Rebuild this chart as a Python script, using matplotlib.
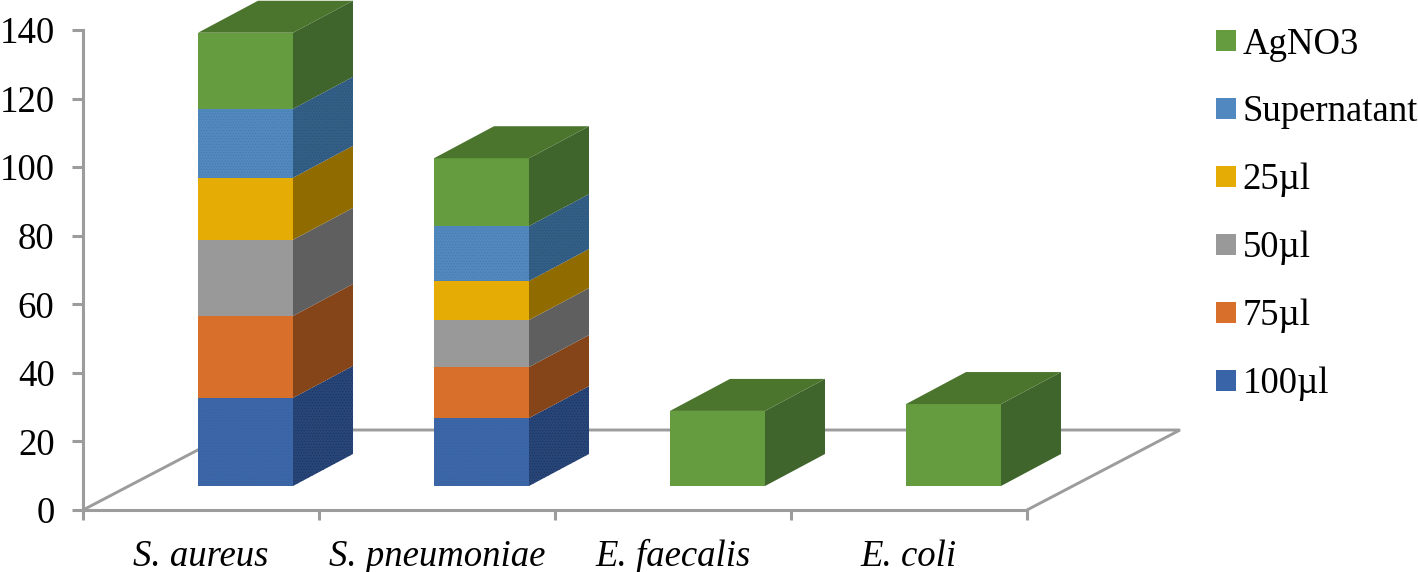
import matplotlib
matplotlib.use("Agg")
import matplotlib.pyplot as plt
from matplotlib.patches import Polygon, Patch

plt.rcParams['font.family'] = ['Liberation Serif', 'DejaVu Serif']
plt.rcParams['hatch.linewidth'] = 0.3

categories = ["S. aureus", "S. pneumoniae", "E. faecalis", "E. coli"]
series_names = ["100µl", "75µl", "50µl", "25µl", "Supernatant", "AgNO3"]
v100 = [25.7, 19.8, 0, 0]
v75 = [23.9, 14.9, 0, 0]
v50 = [22.2, 13.7, 0, 0]
v25 = [18.1, 11.4, 0, 0]
vsup = [20.1, 16.0, 0, 0]
vag = [22.2, 19.8, 21.9, 23.9]
series_values = [v100, v75, v50, v25, vsup, vag]
yticks = [0, 20, 40, 60, 80, 100, 120, 140]

front_colors = ["#3a64a8", "#d8702c", "#999999", "#e5ac05", "#5088bf", "#659c3f"]
side_colors = ["#274579", "#854519", "#5f5f5f", "#8f6b00", "#335f86", "#3f652c"]
front_dots = ["#44709a", None, None, None, "#46789f", None]
side_dots = ["#1c3050", None, None, None, "#2a4e72", None]
top_color = "#4b752d"
axis_color = "#9c9c9c"

fig = plt.figure(figsize=(14.18, 5.72), dpi=100)
W, H = 1418, 572
ax = fig.add_axes([83 / W, 1 - 510 / H, (1027 - 83) / W, (510 - 30) / H])
ax.set_xlim(0, 4)
ax.set_ylim(0, 140)
for s in ("top", "right"):
    ax.spines[s].set_visible(False)
for s in ("left", "bottom"):
    ax.spines[s].set_color(axis_color)
    ax.spines[s].set_linewidth(2.2)

ax.set_yticks(yticks)
ax.tick_params(axis="y", length=8, width=2.2, color=axis_color, labelsize=26.5, pad=12.5)
ax.set_xticks(range(5))
ax.set_xticklabels([])
ax.tick_params(axis="x", which="major", length=7.5, width=2.2, color=axis_color)
ax.set_xticks([i + 0.5 for i in range(4)], minor=True)
ax.set_xticklabels(categories, minor=True, style="italic", fontsize=26.5)
ax.tick_params(axis="x", which="minor", length=0, pad=21)

# perspective offsets in data units (pixels / scale)
px_x = 4 / (1027 - 83)
px_y = 140 / (510 - 30)
floor_dx, floor_dy = 153 * px_x, 80 * px_y
bar_dx, bar_dy = 60 * px_x, 32 * px_y
bar_x0, bar_w = 115 * px_x, 95 * px_x
base = 24 * px_y

ax.plot([0, floor_dx, 4 + floor_dx, 4], [0, floor_dy, floor_dy, 0],
        color=axis_color, lw=2.1, clip_on=False, zorder=1, solid_joinstyle="miter")


def face(points, fc, dots):
    if dots:
        ax.add_patch(Polygon(points, closed=True, fc=fc, ec=dots, lw=0, hatch="......",
                             clip_on=False, zorder=3))
    else:
        ax.add_patch(Polygon(points, closed=True, fc=fc, ec="none", clip_on=False, zorder=3))


for i in range(len(categories)):
    bottom = base
    x0 = i + bar_x0
    x1 = x0 + bar_w
    for k, vals in enumerate(series_values):
        v = vals[i]
        if v == 0:
            continue
        y0, y1 = bottom, bottom + v
        face([(x0, y0), (x1, y0), (x1, y1), (x0, y1)], front_colors[k], front_dots[k])
        face([(x1, y0), (x1 + bar_dx, y0 + bar_dy), (x1 + bar_dx, y1 + bar_dy), (x1, y1)],
             side_colors[k], side_dots[k])
        bottom = y1
    face([(x0, bottom), (x1, bottom), (x1 + bar_dx, bottom + bar_dy), (x0 + bar_dx, bottom + bar_dy)],
         top_color, None)

handles = [Patch(fc=front_colors[k], ec="none", label=series_names[k]) for k in range(5, -1, -1)]
leg = ax.legend(handles=handles, loc="upper left", bbox_to_anchor=(1216 / W, 1 - 27 / H),
                bbox_transform=fig.transFigure, frameon=False, fontsize=26.5,
                handlelength=0.53, handleheight=0.53, handletextpad=0.2,
                labelspacing=0.91, borderpad=0, borderaxespad=0)

fig.savefig("out.png", dpi=100)
